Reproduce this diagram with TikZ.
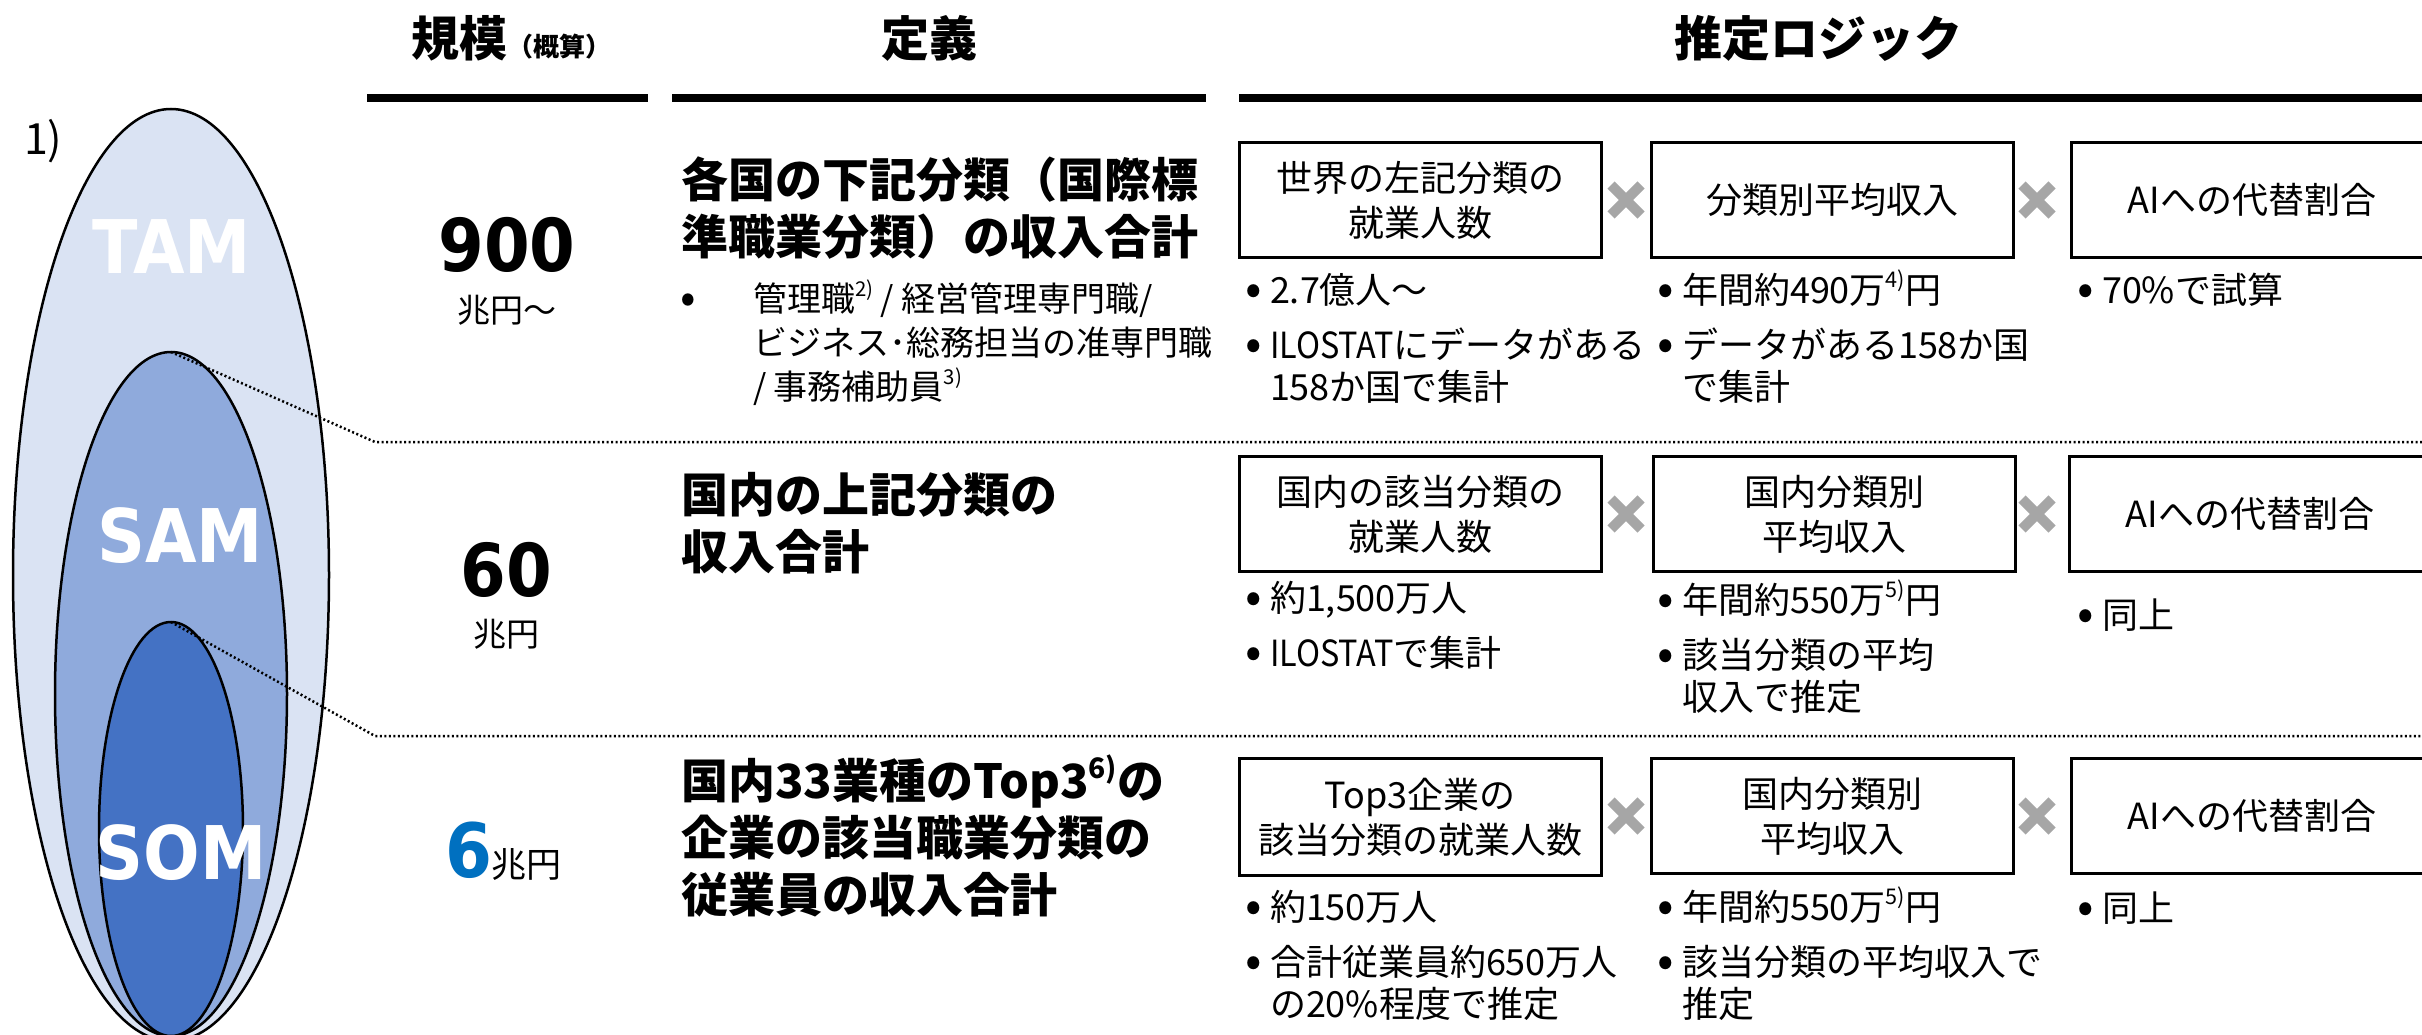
\documentclass[tikz,border=0pt]{standalone}
\usepackage{fontspec}
\setmainfont{Noto Sans CJK JP}
\newfontfamily\numfont[FakeStretch=0.9]{DejaVu Sans}
\usetikzlibrary{shapes.geometric}
\definecolor{tamc}{HTML}{DAE3F3}
\definecolor{samc}{HTML}{8FAADC}
\definecolor{somc}{HTML}{4472C4}
\definecolor{sixc}{HTML}{0070C0}
\definecolor{xgray}{HTML}{A6A6A6}
\newcommand\fs[2]{\fontsize{#1}{#2}\selectfont}
\newcommand\supr[1]{\raisebox{0.42em}{\scalebox{0.6}{#1}}}
\newcommand\bigdot{\raisebox{-0.08em}{\scalebox{1.35}{•}}}
\newcommand\bul{\makebox[28pt][l]{\makebox[24pt][c]{\bigdot}}}
\newcommand\ind{\hspace*{28pt}}
\newcommand\narrow[1]{\scalebox{0.9}[1]{#1}}
\newcommand\xmark[2]{\draw[xmarkline] (#1,#2) ++(-15,-15) -- ++(30,30) ++(0,-30) -- ++(-30,30);}
\begin{document}
\begin{tikzpicture}[x=1pt,y=-1pt,
  every node/.style={inner sep=0pt, outer sep=0pt},
  hdr/.style={font=\bfseries\fs{48}{56}, anchor=base},
  hrule/.style={line width=8pt},
  bigoval/.style={ellipse, draw=black, line width=2.5pt, inner sep=0pt},
  ovallabel/.style={font=\numfont\bfseries\fs{74}{80}, text=white},
  scalenum/.style={font=\numfont\bfseries\fs{73}{80}, anchor=base},
  unittext/.style={font=\fs{33}{40}, anchor=base},
  deftext/.style={font=\bfseries\fs{47}{57}, align=left, anchor=base west},
  defnote/.style={font=\fs{34}{44}, align=left, anchor=base west},
  logicbox/.style={draw=black, line width=3pt, minimum width=362pt, minimum height=115pt, align=center, font=\fs{36}{45}},
  bulletlist/.style={font=\fs{36}{42}, align=left, anchor=base west},
  dotline/.style={line width=2.5pt, dash pattern=on 2pt off 2.5pt},
  xmarkline/.style={line width=10pt, draw=xgray},
]
\fill[white] (0,0) rectangle (2422,1035);
\useasboundingbox (0,0) rectangle (2422,1035);

% ovals
\node[bigoval, fill=tamc, minimum width=316pt, minimum height=932pt] (tam) at (171,575) {};
\node[bigoval, fill=samc, minimum width=232pt, minimum height=684pt] (sam) at (171,694) {};
\node[bigoval, fill=somc, minimum width=144pt, minimum height=414pt] (som) at (171,829) {};

% dotted separators
\coordinate (j1) at (375,442);
\coordinate (e1) at (2422,442);
\coordinate (j2) at (375,736);
\coordinate (e2) at (2422,736);
\draw[dotline] (sam.north) -- (j1) -- (e1);
\draw[dotline] (som.north) -- (j2) -- (e2);

\node[ovallabel] (tamlabel) at (172,247) {TAM};
\node[ovallabel] (samlabel) at (180,536) {SAM};
\node[ovallabel] (somlabel) at (181,853) {SOM};
\node[font=\fs{43}{48}, anchor=base west] (fn1) at (24,155) {1)};

% headers
\node[hdr, anchor=base west] (hscale) at (411,57) {規模{\fs{26}{30}（概算）}};
\node[hdr] (hdef) at (929,57) {定義};
\node[hdr] (hlogic) at (1818,57) {推定ロジック};
\draw[hrule] (367,98) -- (648,98);
\draw[hrule] (672,98) -- (1206,98);
\draw[hrule] (1239,98) -- (2422,98);

% scale column
\node[scalenum] (v900) at (507,271) {900};
\node[unittext] (u900) at (507,322) {兆円～};
\node[scalenum] (v60) at (506,596) {60};
\node[unittext] (u60) at (506,646) {兆円};
\node[scalenum, anchor=base west, text=sixc, font=\numfont\bfseries\fs{75}{80}] (v6) at (445,877) {6};
\node[unittext, anchor=base west, font=\fs{35}{40}] (u6) at (v6.base east) {兆円};

% definitions (anchored on the baseline of the last line)
\node[deftext] (d1) at (681,254) {各国の下記分類（国際標\\準職業分類）の収入合計};
\node[defnote] (d1n) at (680,399) {\makebox[16pt][c]{\bigdot}\hspace*{57pt}管理職\supr{2)} / 経営管理専門職/\\\hspace*{73pt}ビジネス･総務担当の准専門職\\\hspace*{73pt}/ 事務補助員\supr{3)}};
\node[deftext] (d2) at (681,569) {国内の上記分類の\\収入合計};
\node[deftext] (d3) at (681,912) {国内33業種のTop3\supr{6)}の\\企業の該当職業分類の\\従業員の収入合計};

% logic boxes
\node[logicbox] (b11) at (1420,200) {世界の左記分類の\\就業人数};
\node[logicbox] (b12) at (1832,200) {分類別平均収入};
\node[logicbox] (b13) at (2252,200) {AIへの代替割合};
\node[logicbox] (b21) at (1420,514) {国内の該当分類の\\就業人数};
\node[logicbox] (b22) at (1834,514) {国内分類別\\平均収入};
\node[logicbox] (b23) at (2250,514) {AIへの代替割合};
\node[logicbox, minimum height=117pt] (b31) at (1420,817) {Top3企業の\\該当分類の就業人数};
\node[logicbox] (b32) at (1832,816) {国内分類別\\平均収入};
\node[logicbox] (b33) at (2252,816) {AIへの代替割合};

\xmark{1626}{200}
\xmark{2037}{200}
\xmark{1626}{514}
\xmark{2037}{514}
\xmark{1626}{816}
\xmark{2037}{816}

% bullets (anchored on the baseline of the last line)
\node[bulletlist] (t11) at (1242,400) {\bul 2.7億人～\\[13pt]\bul \narrow{ILOSTAT}にデータがある\\\ind 158か国で集計};
\node[bulletlist] (t12) at (1654,400) {\bul 年間約490万\supr{4)}円\\[13pt]\bul データがある158か国\\\ind で集計};
\node[bulletlist] (t13) at (2074,303) {\bul 70\%で試算};
\node[bulletlist] (t21) at (1242,666) {\bul 約1,500万人\\[13pt]\bul \narrow{ILOSTAT}で集計};
\node[bulletlist] (t22) at (1654,710) {\bul 年間約550万\supr{5)}円\\[13pt]\bul 該当分類の平均\\\ind 収入で推定};
\node[bulletlist] (t23) at (2074,628) {\bul 同上};
\node[bulletlist] (t31) at (1242,1017) {\bul 約150万人\\[13pt]\bul 合計従業員約650万人\\\ind の20\%程度で推定};
\node[bulletlist] (t32) at (1654,1017) {\bul 年間約550万\supr{5)}円\\[13pt]\bul 該当分類の平均収入で\\\ind 推定};
\node[bulletlist] (t33) at (2074,921) {\bul 同上};
\end{tikzpicture}
\end{document}
